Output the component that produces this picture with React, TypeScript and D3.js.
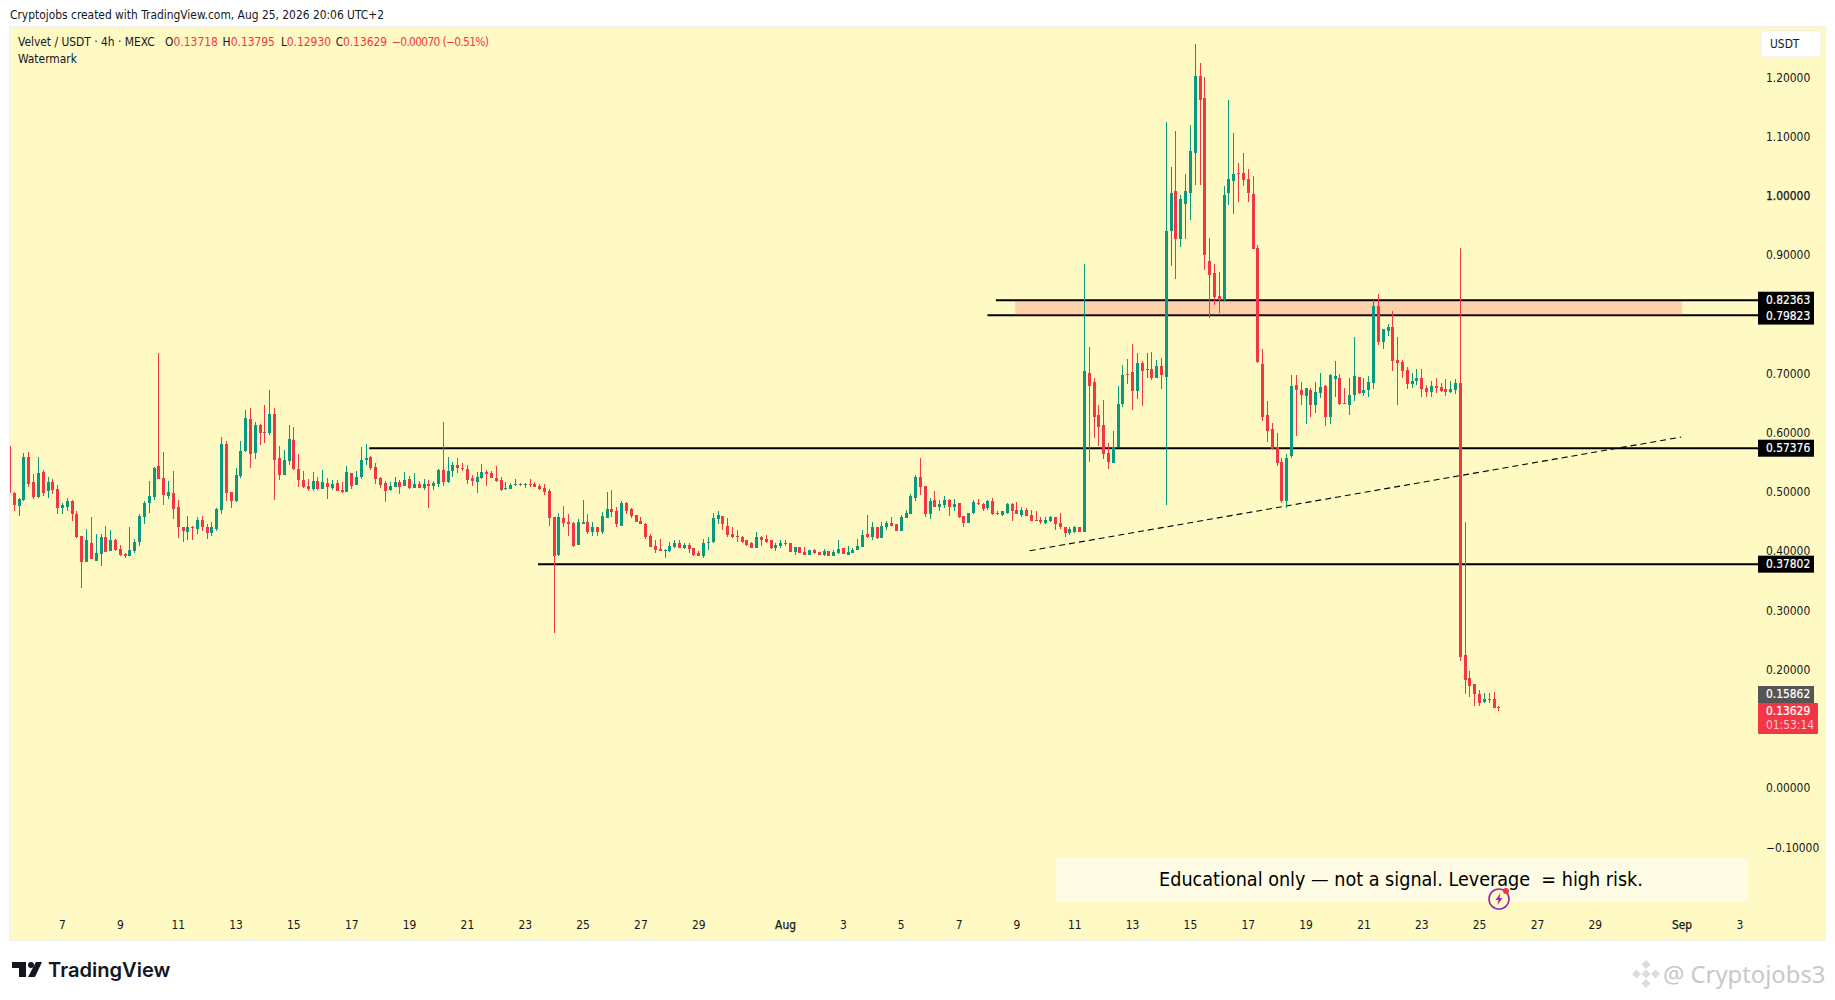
import React, { useEffect, useRef } from 'react';
import * as d3 from 'd3';

const FONT = '"DejaVu Sans Condensed", "DejaVu Sans", sans-serif';
const FONT_SIZE = 11.9;

// 4h candles, first one opens Jul 5 04:00
const firstCandle = Date.UTC(2026, 6, 5, 4);
const FOUR_HOURS = 4 * 3600 * 1000;

const opens = [
  .577,.498,.477,.487,.559,.517,.492,.534,.502,.517,
  .505,.473,.475,.485,.463,.426,.382,.414,.384,.396,
  .424,.401,.419,.404,.396,.391,.401,.416,.458,.482,
  .492,.544,.524,.493,.498,.475,.440,.433,.441,.438,
  .453,.440,.431,.438,.470,.581,.500,.485,.527,.569,
  .623,.566,.613,.601,.600,.632,.558,.529,.553,.588,
  .539,.520,.510,.505,.519,.505,.515,.507,.515,.504,
  .500,.532,.512,.526,.554,.559,.542,.524,.515,.504,
  .509,.517,.510,.522,.507,.514,.507,.514,.510,.514,
  .537,.517,.536,.546,
  .541,.539,.524,.517,.524,.534,.532,.524,.520,.505,
  .505,.512,.514,.512,.514,.514,.510,.507,.502,.458,
  .394,.456,.450,.448,.411,.445,.450,.433,.440,.433,
  .456,.472,.468,.443,.482,.472,.461,.451,.446,.426,
  .409,.404,.401,.401,.407,.414,.406,.411,.406,.397,
  .391,.414,.416,.455,.460,.443,.429,.426,.424,.419,
  .413,.406,.424,.421,.418,.406,.409,.414,.413,.399,
  .407,.399,.394,.402,.399,.394,.401,.392,.397,.406,
  .394,.397,.402,.407,.429,.424,.440,.423,.441,.448,
  .445,.434,.456,.463,.490,
  .526,.510,.463,.487,.475,.478,.487,.475,.482,.460,
  .448,.465,.482,.480,.473,.485,.465,.461,.465,.480,
  .470,.461,.470,.461,
  .453,.453,.448,.451,.457,.448,.441,.430,.433,.440,
  .433,.701,.686,.630,.613,.566,.549,.575,.649,.699,
  .703,.671,.718,.706,.708,.693,.713,.694,.940,1.008,
  .927,.986,1.004,1.072,1.202,1.165,.890,.870,.831,.824,
  1.004,1.025,1.038,1.038,1.028,1.003,.912,.716,.630,.607,
  .576,.551,.485,.561,.681,.672,.662,.672,.647,.667,
  .679,.627,.691,.692,.650,.647,.664,.694,.667,.672,
  .684,.814,.753,.772,.778,.723,.719,.706,.682,.687,
  .692,.676,.669,.679,.677,.674,.669,.672,.684,.224,
  .185,.175,.158,.146,.151,.150,.13718,
];

const highs = [
  .579,.500,.490,.566,.568,.531,.559,.537,.526,.522,
  .512,.482,.490,.487,.467,.426,.438,.458,.429,.429,
  .443,.436,.421,.411,.397,.440,.421,.463,.485,.519,
  .542,.735,.568,.519,.536,.487,.441,.460,.443,.458,
  .460,.446,.450,.473,.593,.586,.500,.541,.586,.639,
  .642,.618,.615,.647,.672,.642,.578,.571,.613,.610,
  .564,.536,.522,.534,.526,.537,.524,.520,.520,.517,
  .544,.532,.536,.576,.581,.561,.549,.526,.519,.517,
  .526,.520,.534,.527,.532,.519,.522,.520,.519,.539,
  .618,.559,.551,.558,
  .549,.546,.529,.534,.547,.537,.536,.544,.525,.517,
  .515,.522,.515,.515,.522,.517,.514,.514,.505,.458,
  .465,.477,.463,.450,.455,.487,.463,.450,.440,.466,
  .500,.504,.475,.485,.483,.473,.461,.458,.448,.429,
  .419,.421,.404,.416,.418,.419,.414,.414,.406,.401,
  .421,.424,.465,.468,.460,.456,.440,.436,.426,.419,
  .416,.433,.426,.428,.419,.414,.419,.418,.413,.407,
  .407,.407,.402,.404,.399,.404,.401,.402,.419,.406,
  .409,.406,.421,.436,.461,.450,.441,.450,.451,.458,
  .445,.461,.470,.497,.529,
  .558,.510,.490,.502,.487,.493,.488,.488,.482,.460,
  .465,.487,.488,.482,.487,.490,.468,.468,.482,.482,
  .483,.475,.473,.470,
  .467,.457,.457,.460,.458,.465,.441,.441,.443,.441,
  .885,.745,.693,.647,.655,.583,.603,.679,.714,.725,
  .750,.735,.721,.735,.736,.723,.726,1.124,1.048,1.109,
  1.001,1.036,1.119,1.257,1.224,1.200,.929,.885,.871,1.016,
  1.161,1.106,1.055,1.072,1.045,1.033,.917,.741,.654,.617,
  .600,.558,.564,.698,.698,.686,.676,.676,.686,.701,
  .681,.699,.721,.699,.676,.692,.762,.694,.692,.696,
  .824,.834,.775,.784,.805,.762,.723,.711,.701,.708,
  .708,.681,.687,.692,.684,.691,.687,.691,.912,.450,
  .198,.175,.165,.161,.160,.163,.13795,
];

const lows = [
  .495,.468,.460,.485,.509,.488,.490,.493,.490,.497,
  .463,.463,.467,.451,.423,.337,.381,.386,.384,.375,
  .399,.401,.401,.392,.389,.391,.397,.409,.445,.465,
  .487,.522,.478,.488,.455,.423,.416,.419,.418,.429,
  .434,.421,.426,.434,.462,.485,.473,.483,.524,.568,
  .541,.556,.579,.583,.596,.487,.520,.529,.546,.537,
  .509,.507,.502,.502,.504,.505,.488,.504,.502,.498,
  .500,.505,.512,.522,.546,.537,.514,.507,.483,.502,
  .509,.497,.510,.505,.507,.507,.504,.473,.504,.509,
  .510,.515,.526,.532,
  .536,.514,.510,.499,.522,.510,.524,.517,.502,.504,
  .505,.510,.510,.507,.509,.509,.504,.495,.443,.261,
  .391,.440,.426,.407,.411,.445,.429,.426,.426,.429,
  .456,.458,.441,.443,.463,.456,.450,.445,.421,.407,
  .397,.401,.389,.399,.406,.406,.404,.397,.392,.391,
  .389,.402,.413,.446,.436,.424,.423,.416,.414,.409,
  .406,.406,.409,.414,.404,.401,.406,.409,.399,.394,
  .397,.394,.394,.396,.394,.392,.392,.392,.396,.396,
  .394,.397,.402,.407,.423,.418,.421,.423,.436,.443,
  .434,.434,.456,.463,.485,
  .495,.458,.455,.475,.468,.473,.460,.468,.456,.441,
  .448,.463,.478,.468,.470,.461,.461,.460,.463,.451,
  .463,.458,.460,.451,
  .451,.446,.445,.450,.436,.438,.424,.428,.430,.433,
  .433,.551,.591,.578,.556,.539,.548,.575,.644,.682,
  .639,.657,.645,.693,.689,.693,.674,.478,.881,.859,
  .913,.927,.959,1.018,1.018,.875,.794,.816,.802,.822,
  .984,.969,.989,1.016,.989,.910,.718,.620,.585,.571,
  .544,.482,.473,.558,.595,.647,.615,.627,.633,.659,
  .612,.615,.660,.647,.649,.630,.654,.665,.662,.660,
  .674,.748,.741,.763,.704,.647,.692,.674,.676,.681,
  .660,.660,.660,.667,.669,.662,.667,.665,.215,.158,
  .153,.139,.139,.144,.143,.136,.1293,
];

const closes = [
  .498,.478,.488,.559,.514,.492,.532,.498,.517,.504,
  .473,.478,.485,.463,.424,.382,.418,.386,.397,.424,
  .399,.419,.402,.394,.391,.402,.416,.460,.482,.493,
  .541,.522,.495,.500,.472,.440,.434,.440,.440,.453,
  .440,.431,.440,.472,.581,.498,.485,.529,.569,.625,
  .564,.613,.600,.600,.632,.554,.529,.554,.590,.539,
  .520,.509,.505,.519,.505,.517,.509,.514,.502,.500,
  .534,.510,.526,.554,.558,.541,.522,.512,.502,.510,
  .517,.509,.520,.507,.514,.507,.514,.510,.515,.537,
  .517,.536,.546,.541,
  .539,.520,.519,.525,.534,.531,.524,.519,.504,.507,
  .512,.514,.512,.514,.512,.509,.505,.500,.456,.392,
  .458,.448,.446,.409,.450,.450,.433,.440,.433,.460,
  .472,.466,.445,.482,.468,.460,.450,.445,.424,.407,
  .402,.401,.402,.409,.414,.406,.411,.404,.394,.391,
  .414,.416,.456,.461,.445,.428,.424,.424,.416,.411,
  .406,.424,.419,.416,.406,.411,.413,.413,.399,.407,
  .397,.394,.402,.397,.394,.401,.392,.399,.404,.396,
  .399,.402,.409,.428,.424,.440,.423,.443,.448,.443,
  .434,.458,.465,.493,.525,
  .509,.463,.485,.475,.480,.487,.475,.480,.458,.448,
  .465,.483,.480,.472,.485,.463,.463,.467,.480,.467,
  .463,.470,.460,.451,
  .451,.450,.453,.457,.446,.440,.430,.438,.440,.433,
  .704,.679,.627,.610,.564,.551,.576,.649,.698,.698,
  .671,.718,.704,.708,.693,.713,.698,.940,1.004,.927,
  .994,1.008,1.075,1.202,1.161,.900,.866,.829,.824,1.001,
  1.028,1.036,1.036,1.026,1.004,.910,.720,.627,.603,.573,
  .548,.485,.558,.679,.672,.664,.676,.647,.669,.677,
  .627,.698,.696,.649,.649,.664,.696,.667,.672,.686,
  .814,.753,.775,.778,.721,.718,.704,.682,.687,.692,
  .674,.669,.679,.676,.671,.669,.674,.684,.221,.183,
  .173,.158,.144,.151,.150,.136,.13629,
];

const priceTicks = [1.2, 1.1, 1.0, 0.9, 0.7, 0.6, 0.5, 0.4, 0.3, 0.2, 0.0, -0.1];

const dayTicks = [
  '07-07', '07-09', '07-11', '07-13', '07-15', '07-17', '07-19', '07-21', '07-23', '07-25', '07-27', '07-29',
  '08-01', '08-03', '08-05', '08-07', '08-09', '08-11', '08-13', '08-15', '08-17', '08-19', '08-21', '08-23',
  '08-25', '08-27', '08-29', '09-01', '09-03',
];

const levels = [
  { price: 0.82363, from: '2026-08-08T07:00Z' },
  { price: 0.79823, from: '2026-08-08T00:00Z' },
  { price: 0.57376, from: '2026-07-17T15:00Z' },
  { price: 0.37802, from: '2026-07-23T11:00Z' },
];

const zone = { from: '2026-08-08T23:00Z', to: '2026-09-01T00:30Z', top: 0.822, bottom: 0.7975 };
const trend = { from: '2026-08-09T11:00Z', to: '2026-08-31T23:30Z', start: 0.4007, end: 0.5925 };

const legendParts = [
  { x: 18, t: 'Velvet / USDT · 4h · MEXC', c: '#131722' },
  { x: 165, t: 'O', c: '#131722' }, { x: 173.6, t: '0.13718', c: '#F23645' },
  { x: 222.5, t: 'H', c: '#131722' }, { x: 230.7, t: '0.13795', c: '#F23645' },
  { x: 281, t: 'L', c: '#131722' }, { x: 286.8, t: '0.12930', c: '#F23645' },
  { x: 335.7, t: 'C', c: '#131722' }, { x: 342.9, t: '0.13629', c: '#F23645' },
];

const App: React.FC = () => {
  const svgRef = useRef<SVGSVGElement>(null);

  useEffect(() => {
    if (!svgRef.current) return;
    const svg = d3.select(svgRef.current);
    svg.selectAll('*').remove();

    const x = d3.scaleUtc()
      .domain([new Date('2026-07-07T00:00Z'), new Date('2026-09-03T00:00Z')])
      .range([62, 1739.4]);
    const y = d3.scaleLinear().domain([1.2, -0.1]).range([77.3, 847.3]);

    // plot background
    svg.append('rect').attr('x', 9).attr('y', 26).attr('width', 1817).attr('height', 915).attr('fill', '#F0F0EE');
    svg.append('rect').attr('x', 10.5).attr('y', 27).attr('width', 1814.5).attr('height', 913).attr('fill', '#FFF9C4');

    svg.append('defs').append('clipPath').attr('id', 'plot-clip')
      .append('rect').attr('x', 10).attr('y', 27).attr('width', 1748).attr('height', 913);

    const LABEL_X = 1758;

    // horizontal levels
    svg.append('g').selectAll('line').data(levels).enter().append('line')
      .attr('x1', d => x(new Date(d.from)))
      .attr('x2', LABEL_X)
      .attr('y1', d => y(d.price))
      .attr('y2', d => y(d.price))
      .attr('stroke', '#000')
      .attr('stroke-width', 2);

    // supply zone
    svg.append('rect')
      .attr('x', x(new Date(zone.from)))
      .attr('y', y(zone.top))
      .attr('width', x(new Date(zone.to)) - x(new Date(zone.from)))
      .attr('height', y(zone.bottom) - y(zone.top))
      .attr('fill', '#F23645')
      .attr('fill-opacity', 0.2);

    // dashed trend line
    svg.append('line')
      .attr('x1', x(new Date(trend.from)))
      .attr('y1', y(trend.start))
      .attr('x2', x(new Date(trend.to)))
      .attr('y2', y(trend.end))
      .attr('stroke', '#000')
      .attr('stroke-width', 1.1)
      .attr('stroke-dasharray', '6 4');

    // candles
    const candles = svg.append('g').attr('clip-path', 'url(#plot-clip)').attr('shape-rendering', 'crispEdges');
    highs.forEach((h, i) => {
      const cx = Math.round(x(new Date(firstCandle + i * FOUR_HOURS)));
      const color = closes[i] >= opens[i] ? '#089981' : '#F23645';
      candles.append('rect')
        .attr('x', cx)
        .attr('width', 1)
        .attr('y', y(h))
        .attr('height', y(lows[i]) - y(h))
        .attr('fill', color);
      const top = y(Math.max(opens[i], closes[i]));
      const bottom = y(Math.min(opens[i], closes[i]));
      candles.append('rect')
        .attr('x', cx - 1)
        .attr('width', 3)
        .attr('y', top)
        .attr('height', Math.max(1, bottom - top))
        .attr('fill', color);
    });

    // time axis
    const timeAxis = d3.axisBottom(x)
      .tickValues(dayTicks.map(d => new Date(`2026-${d}T00:00Z`)))
      .tickSize(0)
      .tickPadding(0)
      .tickFormat((d: any) => {
        if (d.getUTCDate() === 1) return d.getUTCMonth() === 7 ? 'Aug' : 'Sep';
        return String(d.getUTCDate());
      });
    const tg = svg.append('g').attr('transform', 'translate(0,921)').call(timeAxis as any);
    tg.select('.domain').remove();
    tg.selectAll('text')
      .attr('fill', '#131722')
      .attr('font-family', FONT)
      .attr('font-size', FONT_SIZE)
      .attr('stroke', (d: any) => (d.getUTCDate() === 1 ? '#131722' : 'none'))
      .attr('stroke-width', 0.25);

    // price axis
    const priceAxis = d3.axisRight(y)
      .tickValues(priceTicks)
      .tickSize(0)
      .tickPadding(0)
      .tickFormat(d3.format('.5f') as any);
    const pg = svg.append('g').attr('transform', 'translate(1766,0)').call(priceAxis as any);
    pg.select('.domain').remove();
    pg.selectAll('text')
      .attr('fill', '#131722')
      .attr('font-family', FONT)
      .attr('font-size', FONT_SIZE)
      .attr('stroke', (d: any) => (d === 1.0 ? '#131722' : 'none'))
      .attr('stroke-width', 0.25);

    // price labels of the levels
    const lg = svg.append('g');
    levels.forEach((d, i) => {
      // the two top labels touch, second one is pushed down a little
      const cy = i === 1 ? y(d.price) + 0.8 : y(d.price);
      lg.append('rect').attr('x', LABEL_X).attr('y', cy - 8.5).attr('width', 56).attr('height', 17).attr('fill', '#000');
      lg.append('text')
        .attr('x', 1766).attr('y', cy - 0.5).attr('dy', '0.35em')
        .attr('fill', '#fff').attr('stroke', '#fff').attr('stroke-width', 0.2)
        .attr('font-family', FONT).attr('font-size', FONT_SIZE)
        .text(d3.format('.5f')(d.price));
    });

    // last price labels
    lg.append('rect').attr('x', LABEL_X).attr('y', 686).attr('width', 56).attr('height', 17).attr('fill', '#555');
    lg.append('text').attr('x', 1766).attr('y', 694.2).attr('dy', '0.35em')
      .attr('fill', '#fff').attr('stroke', '#fff').attr('stroke-width', 0.2)
      .attr('font-family', FONT).attr('font-size', FONT_SIZE).text('0.15862');
    lg.append('rect').attr('x', LABEL_X).attr('y', 703).attr('width', 60).attr('height', 31).attr('rx', 1).attr('fill', '#F23645');
    lg.append('text').attr('x', 1766).attr('y', 711.2).attr('dy', '0.35em')
      .attr('fill', '#fff').attr('stroke', '#fff').attr('stroke-width', 0.2)
      .attr('font-family', FONT).attr('font-size', FONT_SIZE).text('0.13629');
    lg.append('text').attr('x', 1766).attr('y', 725.2).attr('dy', '0.35em').attr('fill', '#FFC9CE')
      .attr('font-family', FONT).attr('font-size', FONT_SIZE).text('01:53:14');

    // USDT button
    svg.append('rect').attr('x', 1761).attr('y', 31).attr('width', 60).attr('height', 26).attr('rx', 4)
      .attr('fill', '#fff').attr('stroke', '#F0F0F0');
    svg.append('text').attr('x', 1770).attr('y', 44).attr('dy', '0.35em').attr('fill', '#131722')
      .attr('font-family', FONT).attr('font-size', FONT_SIZE).text('USDT');

    // headers
    svg.append('text').attr('x', 10).attr('y', 19).attr('fill', '#131722')
      .attr('font-family', FONT).attr('font-size', FONT_SIZE)
      .text('Cryptojobs created with TradingView.com, Aug 25, 2026 20:06 UTC+2');
    legendParts.forEach(p => {
      svg.append('text').attr('x', p.x).attr('y', 46).attr('fill', p.c)
        .attr('font-family', FONT).attr('font-size', FONT_SIZE).text(p.t);
    });
    svg.append('text').attr('x', 392).attr('y', 46).attr('fill', '#F23645')
      .attr('font-family', FONT).attr('font-size', FONT_SIZE)
      .attr('textLength', 97).attr('lengthAdjust', 'spacing')
      .text('−0.00070 (−0.51%)');
    svg.append('text').attr('x', 18).attr('y', 63).attr('fill', '#131722')
      .attr('font-family', FONT).attr('font-size', FONT_SIZE).text('Watermark');

    // note box
    svg.append('rect').attr('x', 1056).attr('y', 858).attr('width', 692).attr('height', 44).attr('fill', '#FFFCE5');
    svg.append('text').attr('x', 1401).attr('y', 879).attr('dy', '0.35em').attr('text-anchor', 'middle')
      .attr('fill', '#000').attr('font-family', FONT).attr('font-size', 19.6)
      .style('white-space', 'pre')
      .text('Educational only — not a signal. Leverage  = high risk.');

    // event badge
    const badge = svg.append('g').attr('transform', 'translate(1499,899)');
    badge.append('circle').attr('r', 10).attr('fill', '#FFF9C4').attr('stroke', '#9C27B0').attr('stroke-width', 1.6);
    badge.append('path').attr('d', 'M1.5,-6 L-3.5,1 L-0.5,1 L-1.5,6 L3.5,-1 L0.5,-1 Z').attr('fill', '#9C27B0');
    badge.append('circle').attr('cx', 7).attr('cy', -8).attr('r', 3).attr('fill', '#F23645');

    // TradingView logo
    const logo = svg.append('g').attr('transform', 'translate(12,962)').attr('fill', '#131722');
    logo.append('path').attr('d', 'M0,0 H14 V15 H7 V6 H0 Z');
    logo.append('circle').attr('cx', 19).attr('cy', 3).attr('r', 3);
    logo.append('path').attr('d', 'M24,0 H30 L23,15 H16 Z');
    svg.append('text').attr('x', 48).attr('y', 977).attr('fill', '#131722')
      .attr('font-family', 'Inter, "Noto Sans", sans-serif').attr('font-size', 20.1).attr('font-weight', 600)
      .text('TradingView');

    // watermark, bottom right
    const mark = svg.append('g').attr('transform', 'translate(1646,974)').attr('fill', '#DCDCDC');
    [[0, -9.5], [-9.5, 0], [9.5, 0], [0, 9.5], [0, 0]].forEach(([dx, dy]) => {
      mark.append('path').attr('d', `M${dx},${dy - 4.5} L${dx + 4.5},${dy} L${dx},${dy + 4.5} L${dx - 4.5},${dy} Z`);
    });
    svg.append('text').attr('x', 1663).attr('y', 983).attr('fill', '#C8C8C8')
      .attr('font-family', '"Noto Sans", sans-serif').attr('font-size', 23.8)
      .text('@ Cryptojobs3');
  }, []);

  return (
    <svg
      ref={svgRef}
      width={1835}
      height={1000}
      style={{ position: 'absolute', left: 0, top: 0, background: '#fff' }}
    />
  );
};

export default App;
